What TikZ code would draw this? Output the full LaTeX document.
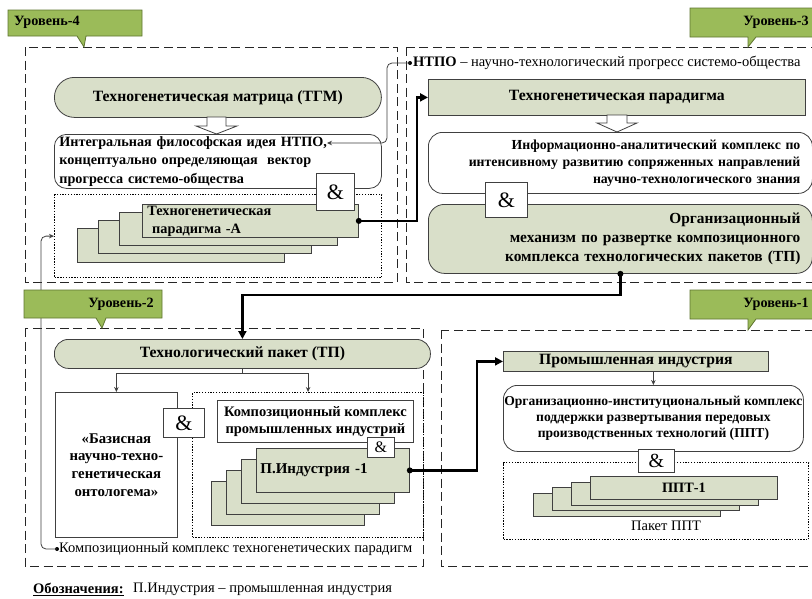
\documentclass[tikz,border=0pt]{standalone}
\usepackage{fontspec}
\setmainfont{Liberation Serif}
\usetikzlibrary{arrows.meta}
\definecolor{boxfill}{HTML}{D9DFC9}
\definecolor{lvlfill}{HTML}{9BBB59}
\definecolor{lvldraw}{HTML}{5F7530}
\definecolor{edgegray}{HTML}{404040}
\begin{document}
\begin{tikzpicture}[x=1pt,y=-1pt,
 frame/.style={draw=black!85, line width=0.9pt, dash pattern=on 9pt off 4.5pt},
 dotbox/.style={draw=black, line width=1.2pt, dash pattern=on 1.3pt off 1.5pt, inner sep=0pt, anchor=north west},
 fbox/.style={draw=edgegray, fill=boxfill, line width=0.8pt, inner sep=0pt, anchor=north west},
 wbox/.style={draw=edgegray, fill=white, line width=0.8pt, inner sep=0pt, anchor=north west},
 ampbox/.style={draw=edgegray, fill=white, line width=0.8pt, inner sep=0pt, anchor=north west, font=\fontsize{22}{22}\selectfont},
 lvlshape/.style={draw=lvldraw, fill=lvlfill, line width=0.8pt},
 lvltext/.style={font=\bfseries\fontsize{14.2}{14.2}\selectfont, inner sep=0pt},
 ttl/.style={font=\bfseries\fontsize{15.7}{18}\selectfont},
 bodytxt/.style={font=\bfseries\fontsize{14.3}{18}\selectfont},
 plaintxt/.style={font=\fontsize{14.5}{16}\selectfont, inner sep=0pt},
 bigconn/.style={line width=2.2pt, -{Triangle[length=8pt,width=8pt]}},
 smallconn/.style={draw=black!75, line width=0.8pt, -{Stealth[length=5pt,width=4.5pt]}},
 hollow/.style={draw=edgegray, fill=white, line width=0.8pt},
 jdot/.style={circle, fill=black, inner sep=0pt, minimum size=6pt}
]
\useasboundingbox (0,0) rectangle (812,598);
\clip (0,0) rectangle (812,598);
\fill[white] (0,0) rectangle (812,598);

% level frames
\draw[frame] (25,47) rectangle (397,282);
\draw[frame] (406,47) rectangle (830,282);
\draw[frame] (25,328) rectangle (423,566);
\draw[frame] (441,330) rectangle (830,566);

% ---------- level 4 ----------
\node[fbox, ttl, minimum width=327pt, minimum height=40pt, rounded corners=20pt] (tgm) at (54,77) {Техногенетическая матрица (ТГМ)};
\draw[hollow] (207,117) -- (226,117) -- (226,126) -- (237,126) -- (216.5,134) -- (196,126) -- (207,126) -- cycle;
\node[wbox, bodytxt, font=\bfseries\fontsize{14.2}{18.5}\selectfont, text width=317pt, inner xsep=5pt, minimum height=54pt, align=left, rounded corners=12pt] (idea) at (54,134) {Интегральная философская идея НТПО,\\концептуально определяющая\ \ вектор\\прогресса системо-общества};
\node[dotbox, minimum width=327pt, minimum height=83pt] (dot4) at (54,194) {};
\node[fbox, minimum width=207pt, minimum height=34pt] (s4d) at (77,228) {};
\node[fbox, minimum width=213pt, minimum height=33pt] (s4c) at (98,220) {};
\node[fbox, minimum width=218pt, minimum height=33pt] (s4b) at (119,212) {};
\node[fbox, bodytxt, text width=206pt, inner xsep=5pt, minimum height=33pt, align=left] (s4a) at (142,204) {Техногенетическая\\\ парадигма -А};
\node[ampbox, minimum width=38pt, minimum height=37pt] (amp4) at (316,173) {\&};

% ---------- level 3 ----------
\node[fbox, ttl, minimum width=377pt, minimum height=36pt] (tp3) at (428,79) {Техногенетическая парадигма};
\draw[hollow] (607,115) -- (627,115) -- (627,123) -- (637,123) -- (617,132) -- (597,123) -- (607,123) -- cycle;
\node[wbox, font=\bfseries\fontsize{13.8}{17}\selectfont, text width=360pt, inner xsep=12pt, minimum height=61pt, align=right, rounded corners=14pt] (info) at (428,132) {Информационно-аналитический комплекс по\\интенсивному развитию сопряженных направлений\\научно-технологического знания};
\node[fbox, font=\bfseries\fontsize{15.4}{19}\selectfont, text width=360pt, inner xsep=12pt, minimum height=69pt, align=right, rounded corners=16pt] (org) at (428,204) {Организационный\\\ механизм по развертке композиционного\\комплекса технологических пакетов (ТП)};
\node[ampbox, minimum width=42pt, minimum height=35pt] (amp3) at (485,182) {\&};
\node[jdot, minimum size=4pt] (ntpodot) at (410,63) {};
\node[plaintxt, anchor=west] (ntpo) at (413,63) {\textbf{НТПО} – научно-технологический прогресс системо-общества};
\coordinate (ntpoend) at (327,143);
\draw[smallconn, rounded corners=5pt] (ntpodot.center) -- ++(-23,0) |- (ntpoend);

% ---------- level 2 ----------
\node[fbox, ttl, minimum width=376pt, minimum height=29pt, rounded corners=14pt] (tpbox) at (54,339) {Технологический пакет (ТП)};
\node[wbox, font=\bfseries\fontsize{14.8}{17.7}\selectfont, minimum width=122pt, minimum height=145pt, align=center] (onto) at (55,392) {«Базисная\\научно-техно-\\генетическая\\онтологема»};
\node[dotbox, minimum width=231pt, minimum height=145pt] (dot2) at (192,392) {};
\node[ampbox, minimum width=41pt, minimum height=29pt] (amp2) at (163,408) {\&};
\node[wbox, font=\bfseries\fontsize{14.5}{17}\selectfont, minimum width=196pt, minimum height=42pt, align=center] (komp) at (217,400) {Композиционный комплекс\\промышленных индустрий};
\node[fbox, minimum width=153pt, minimum height=44pt] (s2d) at (211,481) {};
\node[fbox, minimum width=153pt, minimum height=44pt] (s2c) at (226,470) {};
\node[fbox, minimum width=153pt, minimum height=44pt] (s2b) at (241,459) {};
\node[fbox, font=\bfseries\fontsize{15}{18}\selectfont, text width=145pt, inner xsep=4pt, minimum height=44pt, align=left] (s2a) at (256,448) {П.Индустрия -1};
\node[ampbox, minimum width=27pt, minimum height=20pt, font=\fontsize{16}{16}\selectfont] (amp2b) at (367,437) {\&};
\draw[smallconn] (tpbox.south) -- ++(0,5) -| (onto.north);
\draw[smallconn] (tpbox.south) -- ++(0,5) -| (dot2.north);

% ---------- level 1 ----------
\node[fbox, ttl, minimum width=265pt, minimum height=20pt] (pi) at (503,351) {Промышленная индустрия};
\node[wbox, font=\bfseries\fontsize{13.6}{16}\selectfont, minimum width=300pt, minimum height=66pt, align=center, rounded corners=14pt] (orginst) at (503,385) {Организационно-институциональный комплекс\\поддержки развертывания передовых\\производственных технологий (ППТ)};
\node[dotbox, minimum width=305pt, minimum height=77pt] (dot1) at (503,462) {};
\node[ampbox, minimum width=36pt, minimum height=23pt, font=\fontsize{20}{20}\selectfont] (amp1) at (638,449) {\&};
\node[fbox, minimum width=187pt, minimum height=23pt] (s1d) at (533,493.1) {};
\node[fbox, minimum width=187pt, minimum height=23pt] (s1c) at (552,487.4) {};
\node[fbox, minimum width=187pt, minimum height=23pt] (s1b) at (571,481.7) {};
\node[fbox, bodytxt, minimum width=187pt, minimum height=23pt] (s1a) at (590,476) {ППТ-1};
\node[plaintxt] (paket) at (666,526) {Пакет ППТ};
\draw[smallconn] (orginst.north |- pi.south) -- (orginst.north);

% ---------- cross-level connectors ----------
\node[jdot, minimum size=4pt] (kdot) at (57,549) {};
\node[plaintxt, anchor=west] (ktext) at (59,549) {Композиционный комплекс техногенетических парадигм};
\draw[smallconn, rounded corners=5pt] (kdot.center) -- ++(-16,0) |- (dot4.west);

\node[jdot] (d4) at (s4a.east) {};
\draw[bigconn] (d4.center) -- ++(58,0) |- (tp3.west);
\node[jdot] (d3) at (org.south) {};
\draw[bigconn] (d3.center) -- ++(0,21) -| (tpbox.north);
\node[jdot] (d2) at (s2a.east) {};
\draw[bigconn] (d2.center) -- ++(67,0) |- (pi.west);

% ---------- level callouts ----------
\draw[lvlshape] (8,10) -- (142,10) -- (142,36) -- (86,36) -- (84,47) -- (77,36) -- (8,36) -- cycle;
\node[lvltext, anchor=west] (lvl4) at (14,22) {Уровень-4};
\draw[lvlshape] (690,8) -- (830,8) -- (830,37) -- (756,37) -- (748,47) -- (748,37) -- (690,37) -- cycle;
\node[lvltext, anchor=east] (lvl3) at (809,22) {Уровень-3};
\draw[lvlshape] (24,290) -- (162,290) -- (162,318) -- (106,318) -- (102,328) -- (96,318) -- (24,318) -- cycle;
\node[lvltext, anchor=east] (lvl2) at (154,304) {Уровень-2};
\draw[lvlshape] (690,290) -- (830,290) -- (830,319) -- (756,319) -- (748,330) -- (748,319) -- (690,319) -- cycle;
\node[lvltext, anchor=east] (lvl1) at (809,304) {Уровень-1};

% ---------- legend ----------
\node[plaintxt, anchor=west] (legkey) at (33,589) {\textbf{\underline{Обозначения:}}};
\node[plaintxt, anchor=west] (legval) at (133,589) {П.Индустрия – промышленная индустрия};
\end{tikzpicture}
\end{document}
